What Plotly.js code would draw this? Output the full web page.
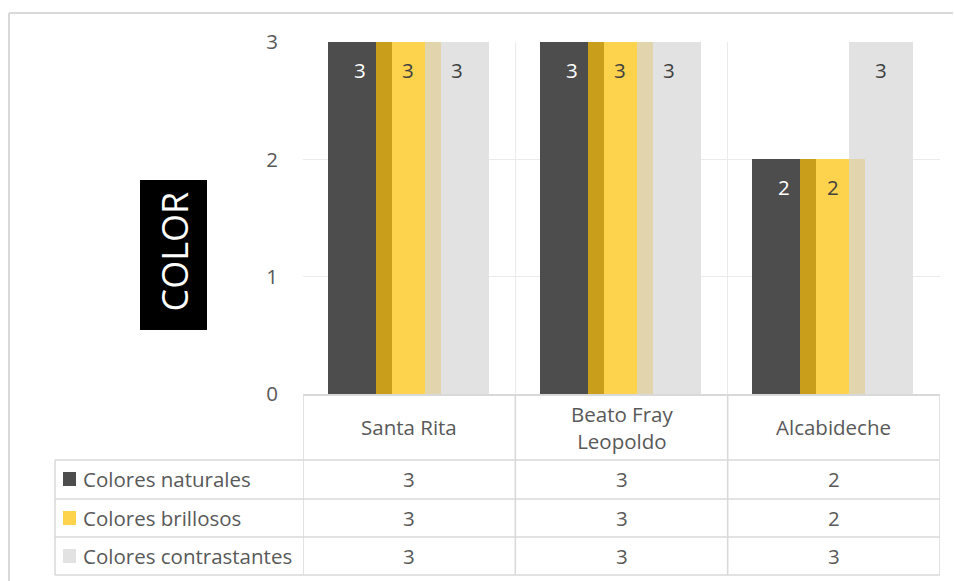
<!DOCTYPE html>
<html>
<head>
<meta charset="utf-8">
<script src="https://cdn.plot.ly/plotly-3.0.1.min.js"></script>
<style>html,body{margin:0;padding:0;background:#fff;}#chart{width:954px;height:581px;}</style>
</head>
<body>
<div id="chart"></div>
<script>
// ---- data ----
const categories = ["Santa Rita", "Beato Fray<br>Leopoldo", "Alcabideche"];
const seriesNames = ["Colores naturales", "Colores brillosos", "Colores contrastantes"];
const naturales = [3, 3, 2];
const brillosos = [3, 3, 2];
const contrastantes = [3, 3, 3];
const yTicks = [0, 1, 2, 3];
const yTitle = "COLOR";

// ---- style ----
const W = 954, H = 581;
const M = {l: 303, r: 14, t: 42, b: 187};
const PW = W - M.l - M.r, PH = H - M.t - M.b;
const px = x => (x - M.l) / PW;       // pixel -> paper x
const py = y => (H - M.b - y) / PH;   // pixel -> paper y
const FONT = "'Open Sans', sans-serif";
const TXT = "#595959";
const LINE = "#d9d9d9";
const FS = 20.5;
const colors = ["#4d4d4d", "#fdd24c", "#e2e2e2"];
const stripColors = ["#c99e1a", "#e2d5ae"];
const data = [naturales, brillosos, contrastantes];
const offsets = [-0.384, -0.158, 0.073];
const widths = [0.301, 0.306, 0.301];
const idx = categories.map((_, i) => i);

const traces = data.map((vals, s) => ({
  type: "bar", x: idx, y: vals, name: seriesNames[s],
  offset: offsets[s], width: widths[s],
  marker: {color: colors[s], line: {width: 0}},
  hoverinfo: "y", showlegend: false
}));
// overlap strips (where adjacent series overlap)
[[0, 1], [1, 2]].forEach(([a, b], k) => {
  traces.push({
    type: "bar", x: idx, y: idx.map(i => Math.min(data[a][i], data[b][i])),
    offset: offsets[b], width: 0.075,
    marker: {color: stripColors[k], line: {width: 0}},
    hoverinfo: "skip", showlegend: false
  });
});

const annotations = [];
// value labels
data.forEach((vals, s) => {
  vals.forEach((v, i) => {
    annotations.push({
      x: i + offsets[s] + widths[s] / 2, y: v, xref: "x", yref: "y",
      xanchor: "center", yanchor: "middle",
      yshift: -28, showarrow: false, text: String(v),
      font: {family: FONT, size: FS, color: s === 0 ? "#ffffff" : "#404040"}
    });
  });
});
// y title
annotations.push({
  xref: "paper", yref: "paper", x: px(173.5), y: py(252), text: yTitle,
  xanchor: "center", yanchor: "middle",
  textangle: -90, showarrow: false,
  font: {family: FONT, size: 36, color: "#ffffff"}
});
// table header (categories)
categories.forEach((c, i) => {
  annotations.push({
    xref: "x", yref: "paper", x: i, y: py(427), text: c, showarrow: false,
    xanchor: "center", yanchor: "middle",
    font: {family: FONT, size: FS, color: TXT}
  });
});
// table rows
const rowCenters = [479, 518, 556];
seriesNames.forEach((n, s) => {
  annotations.push({
    xref: "paper", yref: "paper", x: px(81), y: py(rowCenters[s]), xanchor: "left", yanchor: "middle",
    text: n, showarrow: false, font: {family: FONT, size: FS, color: TXT}
  });
  data[s].forEach((v, i) => {
    annotations.push({
      xref: "x", yref: "paper", x: i, y: py(rowCenters[s]), text: String(v),
      xanchor: "center", yanchor: "middle",
      showarrow: false, font: {family: FONT, size: FS, color: TXT}
    });
  });
});

const shapes = [];
const pline = (x0, y0, x1, y1, w) => shapes.push({
  type: "line", xref: "paper", yref: "paper", x0, y0, x1, y1,
  line: {color: LINE, width: w}
});
// outer frame
pline(px(9), py(13), px(953), py(13), 2);
pline(px(9), py(13), px(9), py(581), 2);
// y-title box
shapes.push({type: "rect", xref: "paper", yref: "paper", x0: px(140), x1: px(207),
  y0: py(330), y1: py(180), fillcolor: "#000000", line: {width: 0}, layer: "below"});
// table horizontal lines
[460, 499, 537, 575].forEach(y => pline(px(55), py(y), 1, py(y), 1.5));
// table left edge (below header)
pline(px(55), py(460), px(55), py(575), 1.5);
// column boundaries
for (let i = 0; i <= categories.length; i++) {
  shapes.push({type: "line", xref: "x", yref: "paper", x0: i - 0.5, x1: i - 0.5,
    y0: py(394), y1: py(575), line: {color: LINE, width: 1.5}});
}
// legend keys
seriesNames.forEach((n, s) => {
  shapes.push({type: "rect", xref: "paper", yref: "paper", x0: px(63), x1: px(76),
    y0: py(rowCenters[s] + 7), y1: py(rowCenters[s] - 7), fillcolor: colors[s], line: {width: 0}});
});

const layout = {
  width: W, height: H, margin: M,
  paper_bgcolor: "#ffffff", plot_bgcolor: "#ffffff",
  barmode: "overlay", bargap: 0,
  showlegend: false,
  xaxis: {range: [-0.5, 2.5], tickvals: [-0.5, 0.5, 1.5, 2.5], showticklabels: false,
    showgrid: true, gridcolor: "#ebebeb", gridwidth: 1.5, zeroline: false,
    showline: true, linecolor: LINE, linewidth: 2, ticks: "", fixedrange: true},
  yaxis: {range: [0, 3], tickvals: yTicks, showgrid: true, gridcolor: "#ebebeb", gridwidth: 1.5,
    zeroline: false, showline: false, ticks: "", ticklabelstandoff: 24,
    tickfont: {family: FONT, size: FS, color: TXT}, fixedrange: true},
  annotations, shapes,
  font: {family: FONT, color: TXT}
};

Plotly.newPlot("chart", traces, layout, {displayModeBar: false, staticPlot: true});
</script>
</body>
</html>
